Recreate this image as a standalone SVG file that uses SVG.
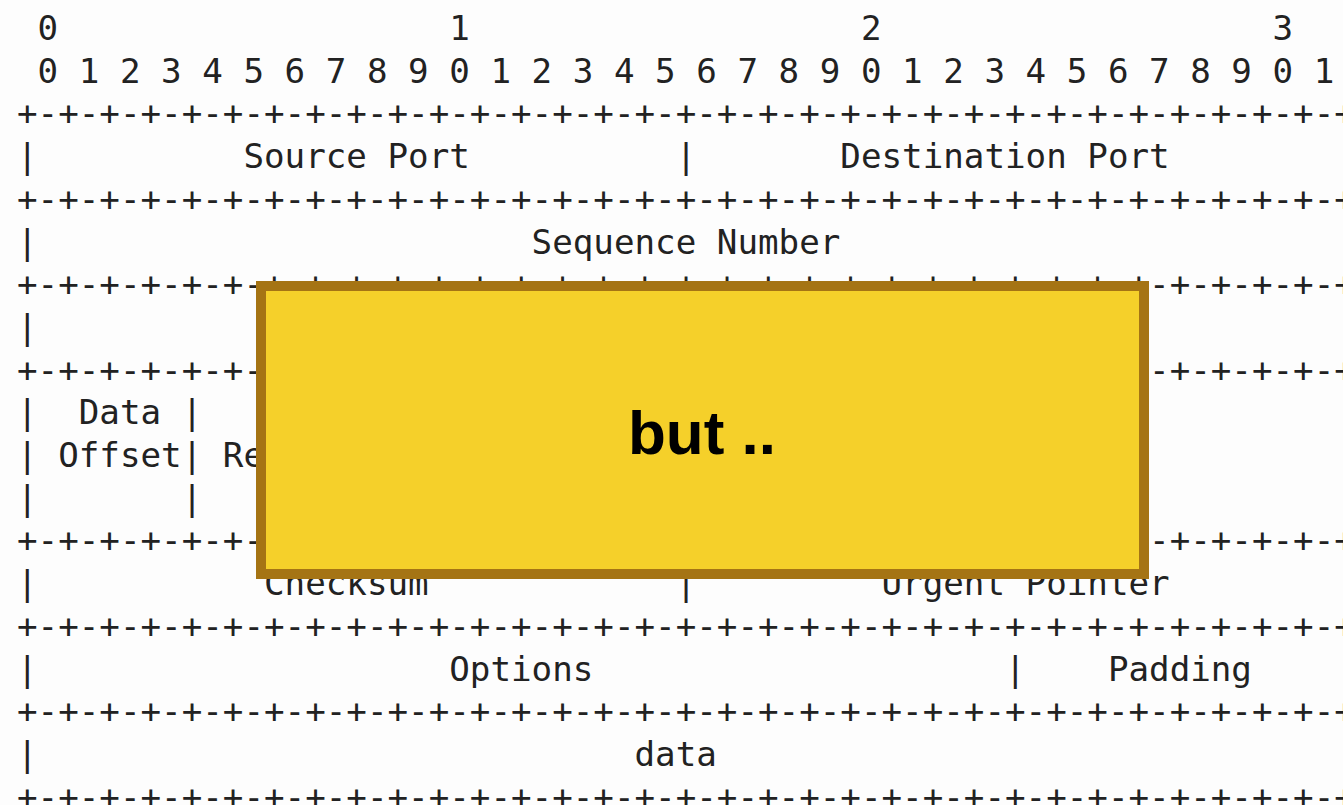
<svg xmlns="http://www.w3.org/2000/svg" width="1343" height="805" viewBox="0 0 1343 805" xml:space="preserve">
<style>
.a{font-family:"DejaVu Sans Mono","Liberation Mono",monospace;font-size:34.2px;fill:#222;white-space:pre}
.box{fill:#F5D02A;stroke:#A57414;stroke-width:10}
.lbl{font-family:"Liberation Sans",Arial,sans-serif;font-weight:bold;font-size:62px;fill:#000;text-anchor:middle}
</style>
<rect width="1343" height="805" fill="#fdfdfd"/>
<g id="header-ascii">
<text class="a" x="17" y="40"> 0                   1                   2                   3</text>
<text class="a" x="17" y="82.7"> 0 1 2 3 4 5 6 7 8 9 0 1 2 3 4 5 6 7 8 9 0 1 2 3 4 5 6 7 8 9 0 1</text>
<text class="a" x="17" y="125.4">+-+-+-+-+-+-+-+-+-+-+-+-+-+-+-+-+-+-+-+-+-+-+-+-+-+-+-+-+-+-+-+-+</text>
<text class="a" x="17" y="168.1">|          Source Port          |       Destination Port</text>
<text class="a" x="17" y="210.8">+-+-+-+-+-+-+-+-+-+-+-+-+-+-+-+-+-+-+-+-+-+-+-+-+-+-+-+-+-+-+-+-+</text>
<text class="a" x="17" y="253.5">|                        Sequence Number</text>
<text class="a" x="17" y="296.2">+-+-+-+-+-+-+-+-+-+-+-+-+-+-+-+-+-+-+-+-+-+-+-+-+-+-+-+-+-+-+-+-+</text>
<text class="a" x="17" y="338.9">|                    Acknowledgment Number</text>
<text class="a" x="17" y="381.6">+-+-+-+-+-+-+-+-+-+-+-+-+-+-+-+-+-+-+-+-+-+-+-+-+-+-+-+-+-+-+-+-+</text>
<text class="a" x="17" y="424.3">|  Data |           |U|A|P|R|S|F|</text>
<text class="a" x="17" y="467">| Offset| Reserved  |R|C|S|S|Y|I|            Window</text>
<text class="a" x="17" y="509.7">|       |           |G|K|H|T|N|N|</text>
<text class="a" x="17" y="552.4">+-+-+-+-+-+-+-+-+-+-+-+-+-+-+-+-+-+-+-+-+-+-+-+-+-+-+-+-+-+-+-+-+</text>
<text class="a" x="17" y="595.1">|           Checksum            |         Urgent Pointer</text>
<text class="a" x="17" y="637.8">+-+-+-+-+-+-+-+-+-+-+-+-+-+-+-+-+-+-+-+-+-+-+-+-+-+-+-+-+-+-+-+-+</text>
<text class="a" x="17" y="680.5">|                    Options                    |    Padding</text>
<text class="a" x="17" y="723.2">+-+-+-+-+-+-+-+-+-+-+-+-+-+-+-+-+-+-+-+-+-+-+-+-+-+-+-+-+-+-+-+-+</text>
<text class="a" x="17" y="765.9">|                             data</text>
<text class="a" x="17" y="808.6">+-+-+-+-+-+-+-+-+-+-+-+-+-+-+-+-+-+-+-+-+-+-+-+-+-+-+-+-+-+-+-+-+</text>
</g>
<g id="overlay">
<rect class="box" x="261" y="286" width="883" height="288"/>
<text class="lbl" x="702" y="454">but ..</text>
</g>
</svg>
